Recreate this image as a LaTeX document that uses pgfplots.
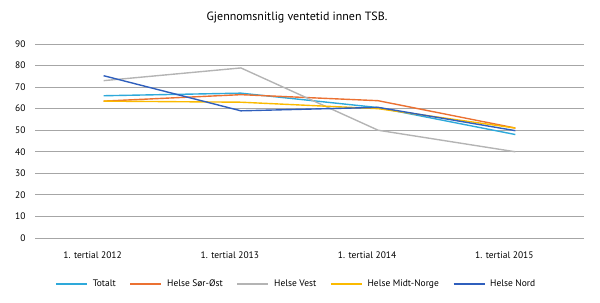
\documentclass[border=0pt]{standalone}
\usepackage{fontspec}
\setmainfont{PT Sans}
\usepackage{pgfplots}
\pgfplotsset{compat=1.18}

\definecolor{ctotalt}{HTML}{2EA9DA}
\definecolor{csorost}{HTML}{EB7132}
\definecolor{cvest}{HTML}{B4B4B4}
\definecolor{cmidt}{HTML}{FBBA00}
\definecolor{cnord}{HTML}{2F5FBD}
\definecolor{cgrid}{HTML}{A6A6A6}

\begin{document}
\begin{tikzpicture}
\useasboundingbox (0,0) rectangle (600bp,303bp);
\node[font=\fontsize{12}{14}\selectfont] at (297bp,285bp) {Gjennomsnitlig ventetid innen TSB.};
\begin{axis}[
  at={(35bp,65bp)}, anchor=south west,
  scale only axis,
  width=549bp, height=194bp,
  xmin=-0.5, xmax=3.5,
  ymin=0, ymax=90,
  ytick={0,10,...,90},
  xtick={0,1,2,3},
  xticklabels={1. tertial 2012,1. tertial 2013,1. tertial 2014,1. tertial 2015},
  axis line style={draw=none},
  major tick length=0pt,
  ymajorgrids,
  grid style={cgrid, line width=1pt},
  tick label style={font=\fontsize{9.5}{11}\selectfont},
  /pgf/number format/assume math mode=true,
  yticklabel style={xshift=-6bp},
  xticklabel style={xshift=-11bp, yshift=-10bp},
  legend columns=5,
  legend style={
    at={(0.476,-0.237)}, anchor=center, draw=none,
    font=\fontsize{9.5}{11}\selectfont,
    /tikz/every odd column/.append style={column sep=3bp},
    /tikz/every even column/.append style={column sep=12bp},
  },
  legend image code/.code={%
    \draw[#1, line width=1.4pt] (0bp,0bp) -- (31bp,0bp);},
]
\addplot[draw=ctotalt, line width=1.4pt] coordinates {(0,66) (1,67.2) (2,60.5) (3,48)};
\addlegendentry{Totalt}
\addplot[draw=csorost, line width=1.4pt] coordinates {(0,63.5) (1,66.5) (2,63.7) (3,51)};
\addlegendentry{Helse Sør-Øst}
\addplot[draw=cvest, line width=1.4pt] coordinates {(0,73) (1,78.9) (2,50) (3,40)};
\addlegendentry{Helse Vest}
\addplot[draw=cmidt, line width=1.4pt] coordinates {(0,63.5) (1,63) (2,60) (3,51)};
\addlegendentry{Helse Midt-Norge}
\addplot[draw=cnord, line width=1.4pt] coordinates {(0,75.3) (1,59) (2,60.6) (3,49.8)};
\addlegendentry{Helse Nord}
\end{axis}
\end{tikzpicture}
\end{document}
